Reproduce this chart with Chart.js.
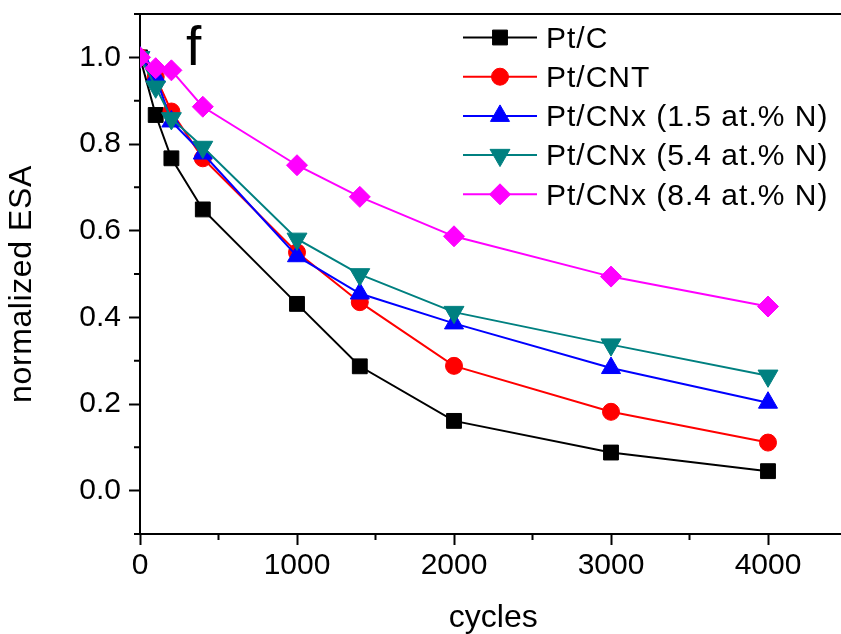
<!DOCTYPE html>
<html>
<head>
<meta charset="utf-8">
<script src="https://cdn.jsdelivr.net/npm/chart.js@4/dist/chart.umd.min.js"></script>
<style>
  html, body { margin: 0; padding: 0; background: #fff; }
  #wrap { width: 841px; height: 634px; overflow: hidden; position: relative; background: #fff; }
  canvas { display: block; }
</style>
</head>
<body>
<div id="wrap"><canvas id="c" width="859" height="634" style="width:859px;height:634px"></canvas></div>
<script>
// ---- data ----
const cycles = [0, 100, 200, 400, 1000, 1400, 2000, 3000, 4000];
const seriesNames = ["Pt/C", "Pt/CNT", "Pt/CNx (1.5 at.% N)", "Pt/CNx (5.4 at.% N)", "Pt/CNx (8.4 at.% N)"];
const ptC    = [1.0, 0.867, 0.767, 0.649, 0.431, 0.287, 0.161, 0.088, 0.045];
const ptCNT  = [1.0, 0.955, 0.875, 0.767, 0.550, 0.435, 0.288, 0.182, 0.111];
const ptCNx15 = [1.0, 0.955, 0.852, 0.778, 0.541, 0.455, 0.386, 0.283, 0.203];
const ptCNx54 = [1.0, 0.932, 0.859, 0.793, 0.581, 0.499, 0.412, 0.337, 0.265];
const ptCNx84 = [1.0, 0.975, 0.970, 0.886, 0.751, 0.678, 0.587, 0.494, 0.425];
const xTicks = [0, 1000, 2000, 3000, 4000];
const xMinorTicks = [500, 1500, 2500, 3500, 4500];
const yTicks = [0.0, 0.2, 0.4, 0.6, 0.8, 1.0];
const yMinorTicks = [-0.1, 0.1, 0.3, 0.5, 0.7, 0.9, 1.1];
const xTitle = "cycles";
const yTitle = "normalized ESA";
const panelLabel = "f";

const FONT = "'Liberation Sans', Arial, Helvetica, sans-serif";

const styles = [
  { color: '#000000', pointStyle: 'rect', radius: 10.5, rotation: 0 },
  { color: '#ff0000', pointStyle: 'circle', radius: 8.5, rotation: 0 },
  { color: '#0000ff', pointStyle: 'triangle', radius: 11, rotation: 0 },
  { color: '#008080', pointStyle: 'triangle', radius: 11.5, rotation: 180 },
  { color: '#ff00ff', pointStyle: 'rectRot', radius: 10.5, rotation: 0 }
];
const seriesValues = [ptC, ptCNT, ptCNx15, ptCNx54, ptCNx84];

const datasets = seriesValues.map((vals, i) => ({
  label: seriesNames[i],
  data: cycles.map((c, j) => ({ x: c, y: vals[j] })),
  borderColor: styles[i].color,
  backgroundColor: styles[i].color,
  pointBackgroundColor: styles[i].color,
  pointBorderColor: styles[i].color,
  pointBorderWidth: 1,
  pointStyle: styles[i].pointStyle,
  pointRadius: styles[i].radius,
  pointRotation: styles[i].rotation,
  borderWidth: 2,
  tension: 0,
  fill: false,
  order: seriesValues.length - 1 - i
}));

function drawMarker(ctx, st, x, y) {
  if (Chart.helpers && Chart.helpers.drawPoint) {
    Chart.helpers.drawPoint(ctx, { pointStyle: st.pointStyle, radius: st.radius, rotation: st.rotation, borderWidth: 1 }, x, y);
    return;
  }
  ctx.beginPath();
  ctx.arc(x, y, st.radius, 0, Math.PI * 2);
  ctx.fill(); ctx.stroke();
}

const framePlugin = {
  id: 'frame',
  afterDraw(chart) {
    const ctx = chart.ctx;
    const a = chart.chartArea;
    const xs = chart.scales.x, ys = chart.scales.y;
    ctx.save();
    ctx.strokeStyle = '#000';
    ctx.lineWidth = 2;
    // top & right frame
    ctx.beginPath();
    ctx.moveTo(a.left - 1, a.top);
    ctx.lineTo(a.right, a.top);
    ctx.lineTo(a.right, a.bottom);
    ctx.stroke();
    // minor ticks
    ctx.beginPath();
    xMinorTicks.forEach(v => {
      const px = xs.getPixelForValue(v);
      ctx.moveTo(px, a.bottom);
      ctx.lineTo(px, a.bottom + 6);
    });
    yMinorTicks.forEach(v => {
      const py = ys.getPixelForValue(v);
      ctx.moveTo(a.left, py);
      ctx.lineTo(a.left - 6, py);
    });
    ctx.stroke();
    // y axis title
    ctx.fillStyle = '#000';
    ctx.save();
    ctx.font = "32px " + FONT;
    if ('letterSpacing' in ctx) ctx.letterSpacing = '0.6px';
    ctx.textAlign = 'center';
    ctx.textBaseline = 'middle';
    ctx.translate(22, 284);
    ctx.rotate(-Math.PI / 2);
    ctx.fillText(yTitle, 0, 0);
    ctx.restore();
    // panel label
    ctx.font = "55px " + FONT;
    ctx.textBaseline = 'alphabetic';
    ctx.textAlign = 'left';
    ctx.fillText(panelLabel, 186, 65);
    // legend
    const lx0 = 463, lx1 = 537, lmx = 500, tx = 546;
    ctx.font = "30px " + FONT;
    if ('letterSpacing' in ctx) ctx.letterSpacing = '1px';
    ctx.textBaseline = 'middle';
    chart.data.datasets.forEach((ds, i) => {
      const y = 37.5 + i * 39.2;
      const st = styles[i];
      ctx.strokeStyle = ds.borderColor;
      ctx.lineWidth = 2;
      ctx.beginPath();
      ctx.moveTo(lx0, y);
      ctx.lineTo(lx1, y);
      ctx.stroke();
      ctx.fillStyle = ds.pointBackgroundColor;
      ctx.strokeStyle = ds.pointBorderColor;
      ctx.lineWidth = 1;
      drawMarker(ctx, st, lmx, y);
      ctx.fillStyle = '#000';
      ctx.fillText(ds.label, tx, y + 2);
    });
    ctx.restore();
  }
};

new Chart(document.getElementById('c'), {
  type: 'line',
  data: { datasets },
  options: {
    responsive: false,
    animation: false,
    devicePixelRatio: 1,
    layout: { padding: { top: 14, right: 3, left: 0, bottom: 0 } },
    plugins: { legend: { display: false }, tooltip: { enabled: false } },
    scales: {
      x: {
        type: 'linear',
        min: 0, max: 4500,
        afterBuildTicks: s => { s.ticks = xTicks.map(v => ({ value: v })); },
        afterFit: s => { s.height = 100; s.paddingLeft = 0; s.paddingRight = 0; },
        ticks: { color: '#000', font: { family: FONT, size: 30, lineHeight: 1.2 }, padding: 3, maxRotation: 0, autoSkip: false,
                 callback: v => String(v) },
        grid: { display: true, drawOnChartArea: false, drawTicks: true, tickLength: 11, tickWidth: 2, tickColor: '#000' },
        border: { display: true, color: '#000', width: 2 },
        title: { display: true, text: xTitle, color: '#000', font: { family: FONT, size: 32, lineHeight: 1 }, padding: { top: 0, bottom: 0 } }
      },
      y: {
        type: 'linear',
        min: -0.1, max: 1.1,
        afterBuildTicks: s => { s.ticks = yTicks.map(v => ({ value: v })); },
        afterFit: s => { s.width = 140; s.paddingTop = 0; s.paddingBottom = 0; },
        ticks: { color: '#000', font: { family: FONT, size: 30 }, padding: 8, autoSkip: false,
                 callback: v => Number(v).toFixed(1) },
        grid: { display: true, drawOnChartArea: false, drawTicks: true, tickLength: 11, tickWidth: 2, tickColor: '#000' },
        border: { display: true, color: '#000', width: 2 },
        title: { display: false, text: yTitle }
      }
    }
  },
  plugins: [framePlugin]
});
</script>
</body>
</html>
